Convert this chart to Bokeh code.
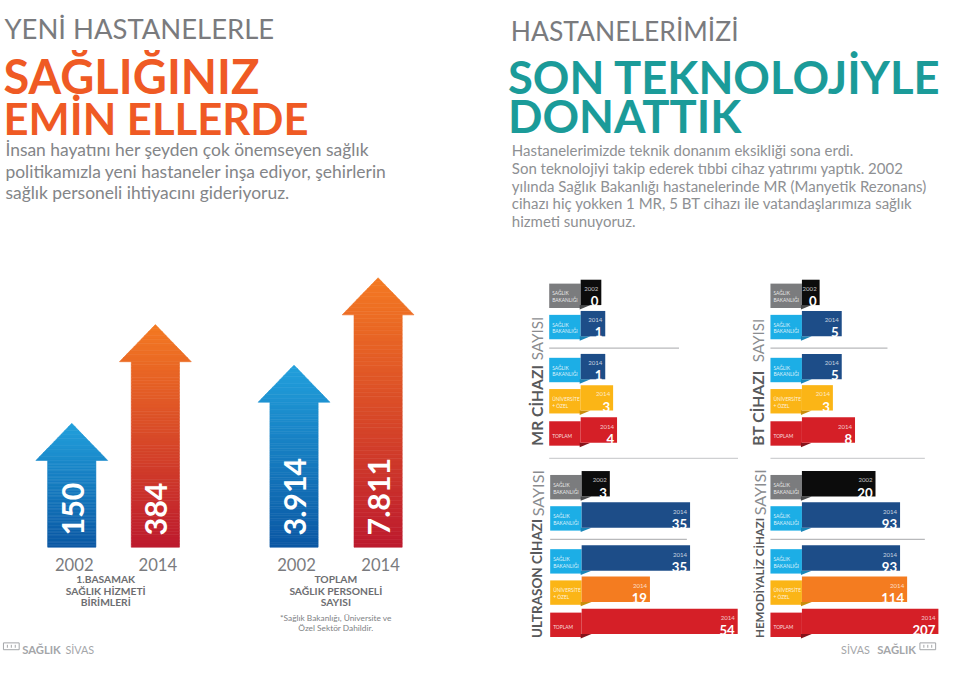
import math
from bokeh.plotting import figure
from bokeh.models import Range1d
from bokeh.embed import file_html
from bokeh.resources import INLINE
from bokeh.core.properties import value

# ---------------- data ----------------
left_kicker = "YENİ HASTANELERLE"
left_headline = ["SAĞLIĞINIZ", "EMİN ELLERDE"]
left_body = [
    "İnsan hayatını her şeyden çok önemseyen sağlık",
    "politikamızla yeni hastaneler inşa ediyor, şehirlerin",
    "sağlık personeli ihtiyacını gideriyoruz.",
]
right_kicker = "HASTANELERİMİZİ"
right_headline = ["SON TEKNOLOJİYLE", "DONATTIK"]
right_body = [
    "Hastanelerimizde teknik donanım eksikliği sona erdi.",
    "Son teknolojiyi takip ederek tıbbi cihaz yatırımı yaptık. 2002",
    "yılında Sağlık Bakanlığı hastanelerinde MR (Manyetik Rezonans)",
    "cihazı hiç yokken 1 MR, 5 BT cihazı ile vatandaşlarımıza sağlık",
    "hizmeti sunuyoruz.",
]

arrow_years = ["2002", "2014"]
units_values = [150, 384]
units_labels = ["150", "384"]
units_title = ["1.BASAMAK", "SAĞLIK HİZMETİ", "BİRİMLERİ"]
staff_values = [3914, 7811]
staff_labels = ["3.914", "7.811"]
staff_title = ["TOPLAM", "SAĞLIK PERSONELİ", "SAYISI"]
staff_note = ["*Sağlık Bakanlığı, Üniversite ve", "Özel Sektör Dahildir."]

row_years = ["2002", "2014", "2014", "2014", "2014"]
row_source_1 = ["SAĞLIK", "SAĞLIK", "SAĞLIK", "ÜNİVERSİTE", "TOPLAM"]
row_source_2 = ["BAKANLIĞI", "BAKANLIĞI", "BAKANLIĞI", "+ ÖZEL", ""]
mr_values = [0, 1, 1, 3, 4]
bt_values = [0, 5, 5, 3, 8]
us_values = [3, 35, 35, 19, 54]
hd_values = [20, 93, 93, 114, 207]
mr_title = ["MR CİHAZI", "SAYISI"]
bt_title = ["BT CİHAZI", "SAYISI"]
us_title = ["ULTRASON CİHAZI", "SAYISI"]
hd_title = ["HEMODİYALİZ CİHAZI", "SAYISI"]

footer_left = ["SAĞLIK", "SİVAS"]
footer_right = ["SİVAS", "SAĞLIK"]

# ---------------- styles ----------------
FONT = "Lato"
ORANGE = "#ef5a24"
TEAL = "#1b9b99"
GRAY_H = "#7a7b7e"
GRAY_T = "#838588"
GRAY_T2 = "#8e9093"
LINE_GRAY = "#b8b9bb"
FS = 0.98  # text scale (page is drawn into 944x658)

p = figure(width=944, height=658, x_range=Range1d(0, 960), y_range=Range1d(674, 0),
           output_backend="svg", toolbar_location=None, min_border=0,
           x_axis_location=None, y_axis_location=None)
p.grid.visible = False
p.outline_line_color = None
p.background_fill_color = "white"
p.border_fill_color = "white"


def txt(x, y, s, size, color, bold=False, align="left", baseline="alphabetic",
        angle=0.0, alpha=1.0):
    p.text(x=[x], y=[y], text=[s], text_font=value(FONT), text_font_size=f"{size * FS:.2f}px",
           text_color=color, text_font_style="bold" if bold else "normal",
           text_align=align, text_baseline=baseline, angle=angle, text_alpha=alpha)


def mix(c1, c2, t):
    a = [int(c1[i:i + 2], 16) for i in (1, 3, 5)]
    b = [int(c2[i:i + 2], 16) for i in (1, 3, 5)]
    return "#%02x%02x%02x" % tuple(int(round(a[k] + (b[k] - a[k]) * t)) for k in range(3))


# ---------------- header ----------------
txt(4, 29, left_kicker, 28, GRAY_H)
txt(3, 77, left_headline[0], 48, ORANGE, bold=True)
txt(3, 120, left_headline[1], 44.5, ORANGE, bold=True)
for i, line in enumerate(left_body):
    txt(5, 153 + 22 * i, line, 17.8, GRAY_T)

txt(519, 31, right_kicker, 27, GRAY_H)
txt(516, 78, right_headline[0], 46.3, TEAL, bold=True)
txt(516, 118, right_headline[1], 46.3, TEAL, bold=True)
for i, line in enumerate(right_body):
    txt(520, 153 + 18.3 * i, line, 15.3, GRAY_T2)

# ---------------- arrows ----------------
BASE = 560
HEAD_H = 38
HEAD_HW = 36.5
SHAFT_HW = 24.5
BLUE_TOP, BLUE_BOT = "#22a0dc", "#0b58a4"
ORG_TOP, ORG_BOT = "#f47a22", "#bd1a2e"

arrow_groups = [
    dict(values=units_values, labels=units_labels, title=units_title, cx=[72.5, 157.5],
         h0=62.0, hmax=228.0, title_x=107, note=None),
    dict(values=staff_values, labels=staff_labels, title=staff_title, cx=[298.5, 384.0],
         h0=96.6, hmax=276.0, title_x=341, note=staff_note),
]

for g in arrow_groups:
    vmax = max(g["values"])
    for j, v in enumerate(g["values"]):
        cx = g["cx"][j]
        h = g["h0"] + (g["hmax"] - g["h0"]) * v / vmax
        tip = BASE - h
        shoulder = tip + HEAD_H
        ctop, cbot = (BLUE_TOP, BLUE_BOT) if j == 0 else (ORG_TOP, ORG_BOT)
        xs, ys, cols = [], [], []
        nh = 10
        for k in range(nh):
            ya = tip + HEAD_H * k / nh
            yb = tip + HEAD_H * (k + 1) / nh
            wa = HEAD_HW * k / nh
            wb = HEAD_HW * (k + 1) / nh
            xs.append([cx - wa, cx + wa, cx + wb, cx - wb])
            ys.append([ya, ya, yb, yb])
            cols.append(mix(ctop, cbot, ((ya + yb) / 2 - tip) / h))
        ns = 60
        for k in range(ns):
            ya = shoulder + (BASE - shoulder) * k / ns
            yb = shoulder + (BASE - shoulder) * (k + 1) / ns
            xs.append([cx - SHAFT_HW, cx + SHAFT_HW, cx + SHAFT_HW, cx - SHAFT_HW])
            ys.append([ya, ya, yb, yb])
            cols.append(mix(ctop, cbot, ((ya + yb) / 2 - tip) / h))
        p.patches(xs=xs, ys=ys, fill_color=cols, line_color=cols, line_width=0.6)
        txt(cx + 1, BASE - 12, g["labels"][j], 31, "white", bold=True, align="left",
            baseline="middle", angle=math.pi / 2)
        txt(cx + 2.5, 578, arrow_years[j], 17, GRAY_H, align="center")
    for i, line in enumerate(g["title"]):
        txt(g["title_x"], 593 + 11.5 * i, line, 10.5, "#6d6e71", bold=True, align="center")
    if g["note"]:
        for i, line in enumerate(g["note"]):
            txt(g["title_x"], 633 + 10 * i, line, 8.5, "#808285", align="center")

# ---------------- device panels ----------------
GRAY_L, BLACK = "#7b7c7e", "#0c0c0c"
CYAN, NAVY = "#1caee6", "#1d4d88"
YELLOW, ORANGE2 = "#fbb516", "#f47c20"
RED = "#d51f27"
FOLD = {GRAY_L: "#4a4b4c", CYAN: "#1a86b8", YELLOW: "#c98d0c", RED: "#86121a"}
ROW_OFF = [0, 32, 76, 108, 141]

panels = [
    dict(values=mr_values, title=mr_title, lx=558, vx=590, top=286, w0=21, k=4.0,
         uni=YELLOW, tx=546, tb=456, tt=324, ts=16.0, ts2=15.5, div_end=690, sep_end=750),
    dict(values=bt_values, title=bt_title, lx=783, vx=815, top=286, w0=18, k=4.5,
         uni=YELLOW, tx=770, tb=456, tt=326, ts=16.0, ts2=15.5, div_end=902, sep_end=940),
    dict(values=us_values, title=us_title, lx=559, vx=591, top=482, w0=21, k=2.55,
         uni=ORANGE2, tx=546, tb=653, tt=481, ts=13.8, ts2=16.5, div_end=698, sep_end=None),
    dict(values=hd_values, title=hd_title, lx=783, vx=815, top=482, w0=68, k=0.342,
         uni=ORANGE2, tx=772, tb=653, tt=480, ts=11.8, ts2=16.5, div_end=940, sep_end=None),
]

for pn in panels:
    lcols = [GRAY_L, CYAN, CYAN, YELLOW, RED]
    vcols = [BLACK, NAVY, NAVY, pn["uni"], RED]
    for r, v in enumerate(pn["values"]):
        vt = pn["top"] + ROW_OFF[r]
        vb = vt + 26
        lt = vt + 4
        lb = vt + 29
        vr = pn["vx"] + pn["w0"] + pn["k"] * v
        p.quad(left=[pn["lx"]], right=[pn["vx"]], top=[lt], bottom=[lb],
               fill_color=lcols[r], line_color=None)
        p.patch(x=[pn["vx"] - 1, pn["vx"] + 10, pn["vx"] - 1], y=[vb, vb, lb + 1.5],
                fill_color=FOLD[lcols[r]], line_color=None)
        p.quad(left=[pn["vx"]], right=[vr], top=[vt], bottom=[vb],
               fill_color=vcols[r], line_color=None)
        txt(pn["lx"] + 3, lt + (15 if row_source_2[r] == "" else 10), row_source_1[r], 5,
            "white", alpha=0.85)
        if row_source_2[r]:
            txt(pn["lx"] + 3, lt + 17, row_source_2[r], 5, "white", alpha=0.85)
        txt(vr - 3, vt + 9.5, row_years[r], 6.2, "white", align="right", alpha=0.75)
        txt(vr - 3, vt + 22, str(v), 13.5, "white", bold=True, align="right")
    dy = pn["top"] + 70
    p.segment(x0=[pn["lx"]], y0=[dy], x1=[pn["div_end"]], y1=[dy], line_color=LINE_GRAY,
              line_width=1.3)
    if pn["sep_end"]:
        sy = pn["top"] + 183
        p.segment(x0=[pn["lx"]], y0=[sy], x1=[pn["sep_end"]], y1=[sy], line_color="#cfd0d2",
                  line_width=1.3)
    txt(pn["tx"], pn["tb"], pn["title"][0], pn["ts"], "#58595b", bold=True, align="left",
        baseline="middle", angle=math.pi / 2)
    txt(pn["tx"], pn["tt"], pn["title"][1], pn["ts2"], "#8a8c8f", align="right",
        baseline="middle", angle=math.pi / 2)

# ---------------- footer ----------------
FOOT = "#a4a6a9"
for x0 in (3, 935):
    p.quad(left=[x0], right=[x0 + 16], top=[658], bottom=[665], fill_color=None,
           line_color=FOOT, line_width=1)
    p.segment(x0=[x0 + 4, x0 + 8, x0 + 12], y0=[660, 660, 660], x1=[x0 + 4, x0 + 8, x0 + 12],
              y1=[663, 663, 663], line_color=FOOT, line_width=1)
txt(22, 665, footer_left[0], 11.5, FOOT, bold=True)
txt(66, 665, footer_left[1], 11, FOOT)
txt(931, 665, footer_right[1], 11.5, FOOT, bold=True, align="right")
txt(884, 665, footer_right[0], 11, FOOT, align="right")

open("out.html", "w").write(file_html(p, INLINE))
